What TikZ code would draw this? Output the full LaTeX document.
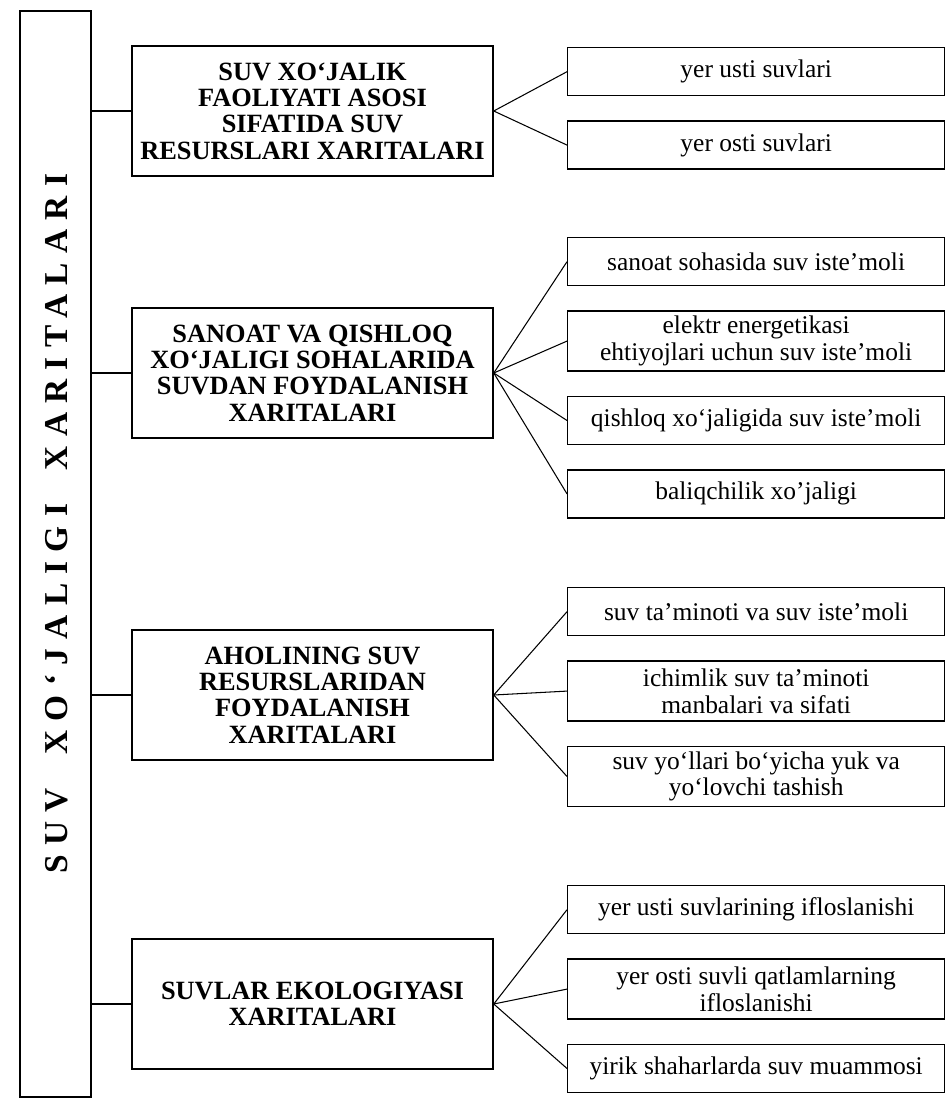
\documentclass[tikz,border=0pt]{standalone}
\usepackage{fontspec}
\setmainfont{Liberation Serif}
\usepackage{tikz}
\usetikzlibrary{positioning}

\begin{document}
\begin{tikzpicture}[
    x=0.02cm, y=-0.02cm,
    frame/.style={draw, line width=0.9pt, minimum width=1.42cm, minimum height=21.72cm},
    cat/.style={draw, line width=0.9pt, minimum width=7.22cm, minimum height=2.6cm, align=center, inner sep=2pt, font=\fontsize{15}{15}\selectfont\bfseries},
    leaf/.style={draw, line width=0.8pt, minimum width=7.54cm, minimum height=0.96cm, align=center, inner sep=2pt, font=\fontsize{14.5}{15.2}\selectfont},
    leaftwo/.style={leaf, minimum height=1.2cm},
    link/.style={line width=0.6pt},
    node distance=0.48cm
]
    \useasboundingbox (0,0) rectangle (945,1099);

    % Vertical title
    \node[frame] (axis) at (55.5,554) {};
    \node[rotate=90, font=\fontsize{19}{19}\selectfont\bfseries\addfontfeatures{LetterSpace=28}] (title) at (57,523.5) {SUV\hspace{1em}XO‘JALIGI\hspace{1em}XARITALARI};

    % Map groups
    \node[cat] (water) at (312.5,111) {SUV XO‘JALIK\\FAOLIYATI ASOSI\\SIFATIDA SUV\\RESURSLARI XARITALARI};
    \node[cat] (industry) at (312.5,373) {SANOAT VA QISHLOQ\\XO‘JALIGI SOHALARIDA\\SUVDAN FOYDALANISH\\XARITALARI};
    \node[cat] (people) at (312.5,695) {AHOLINING SUV\\RESURSLARIDAN\\FOYDALANISH\\XARITALARI};
    \node[cat] (ecology) at (312.5,1004) {SUVLAR EKOLOGIYASI\\XARITALARI};

    % Water resources
    \node[leaf, anchor=north west] (surface) at (567,47) {yer usti suvlari};
    \node[leaf, below=of surface] (ground) {yer osti suvlari};

    % Industry and agriculture
    \node[leaf, anchor=north west] (factory) at (567,237) {sanoat sohasida suv iste’moli};
    \node[leaftwo, below=of factory] (power) {elektr energetikasi\\ehtiyojlari uchun suv iste’moli};
    \node[leaf, below=of power] (farm) {qishloq xo‘jaligida suv iste’moli};
    \node[leaf, below=of farm] (fish) {baliqchilik xo’jaligi};

    % Population
    \node[leaf, anchor=north west] (supply) at (567,587) {suv ta’minoti va suv iste’moli};
    \node[leaftwo, below=of supply] (drink) {ichimlik suv ta’minoti\\manbalari va sifati};
    \node[leaftwo, below=of drink] (transport) {suv yo‘llari bo‘yicha yuk va\\yo‘lovchi tashish};

    % Ecology
    \node[leaf, anchor=north west] (pollsurf) at (567,885) {yer usti suvlarining ifloslanishi};
    \node[leaftwo, below=of pollsurf] (pollground) {yer osti suvli qatlamlarning\\ifloslanishi};
    \node[leaf, below=of pollground] (cities) {yirik shaharlarda suv muammosi};

    % Lines from the title
    \draw[link] (axis.east |- water.west) -- (water.west);
    \draw[link] (axis.east |- industry.west) -- (industry.west);
    \draw[link] (axis.east |- people.west) -- (people.west);
    \draw[link] (axis.east |- ecology.west) -- (ecology.west);

    % Fans
    \draw[link] (water.east) -- (surface.west);
    \draw[link] (water.east) -- (ground.west);
    \draw[link] (industry.east) -- (factory.west);
    \draw[link] (industry.east) -- (power.west);
    \draw[link] (industry.east) -- (farm.west);
    \draw[link] (industry.east) -- (fish.west);
    \draw[link] (people.east) -- (supply.west);
    \draw[link] (people.east) -- (drink.west);
    \draw[link] (people.east) -- (transport.west);
    \draw[link] (ecology.east) -- (pollsurf.west);
    \draw[link] (ecology.east) -- (pollground.west);
    \draw[link] (ecology.east) -- (cities.west);
\end{tikzpicture}
\end{document}
